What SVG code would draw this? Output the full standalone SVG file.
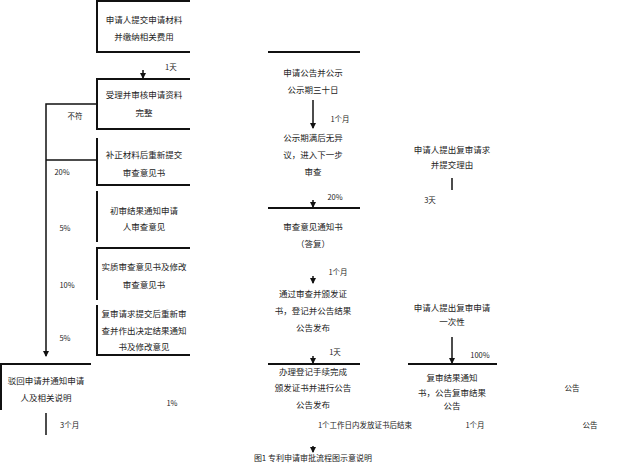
<svg xmlns="http://www.w3.org/2000/svg" width="627" height="463" viewBox="0 0 627 463">
<defs>
<style>
.ln{stroke:#111;stroke-width:2;fill:none}
.cn{stroke:#111;stroke-width:1.5;fill:none}
text{font-family:"Noto Sans CJK SC","Liberation Sans",sans-serif;font-size:8.5px;fill:#222}
.c{text-anchor:middle}
.s{font-size:7.5px}
</style>
<marker id="ah" markerWidth="6" markerHeight="6" refX="5" refY="3" orient="auto" markerUnits="userSpaceOnUse">
<path d="M0,0 L6,3 L0,6 z" fill="#111"/>
</marker>
</defs>
<rect width="627" height="463" fill="#fff"/>

<g id="connectors">
<path class="cn" d="M97,104 H46 V356" marker-end="url(#ah)"/>
<path class="cn" d="M46,160 H97"/>
<path class="cn" d="M46,413 V435"/>
<path class="cn" d="M143,70 V78" marker-end="url(#ah)"/>
<path class="cn" d="M313,100 V128" marker-end="url(#ah)"/>
<path class="cn" d="M313,200 V207" marker-end="url(#ah)"/>
<path class="cn" d="M313,276 V283" marker-end="url(#ah)"/>
<path class="cn" d="M313,356 V363" marker-end="url(#ah)"/>
<path class="cn" d="M452,178 V190"/>
<path class="cn" d="M452,337 V363" marker-end="url(#ah)"/>
<path class="cn" d="M313,446 V452" marker-end="url(#ah)"/>
<text x="165" y="70" class="s">1天</text>
<text x="75" y="119" class="s c">不符</text>
<text x="62" y="175" class="s c">20%</text>
<text x="65" y="231" class="s c">5%</text>
<text x="67" y="288" class="s c">10%</text>
<text x="65" y="341" class="s c">5%</text>
<text x="60" y="428" class="s">3个月</text>
<text x="172" y="406" class="s c">1%</text>
<text x="340" y="122" class="s c">1个月</text>
<text x="335" y="200" class="s c">20%</text>
<text x="338" y="275" class="s c">1个月</text>
<text x="335" y="355" class="s c">1天</text>
<text x="365" y="428" class="s c">1个工作日内发放证书后结束</text>
<text x="430" y="203" class="s c">3天</text>
<text x="480" y="358" class="s c">100%</text>
<text x="572" y="391" class="s c">公告</text>
<text x="475" y="428" class="s c">1个月</text>
<text x="590" y="428" class="s c">公告</text>
</g>

<g id="n1">
<path class="ln" d="M190,1 H97 V52 H190"/>
<text x="144" y="23" class="c">申请人提交申请材料</text>
<text x="144" y="40" class="c">并缴纳相关费用</text>
</g>
<g id="n2">
<path class="ln" d="M190,79 H97 V129 H190"/>
<text x="144" y="98" class="c">受理并审核申请资料</text>
<text x="144" y="116" class="c">完整</text>
</g>
<g id="n3">
<path class="ln" d="M97,138 V185 H190"/>
<text x="144" y="158" class="c">补正材料后重新提交</text>
<text x="144" y="176" class="c">审查意见书</text>
</g>
<g id="n4">
<path class="ln" d="M97,191 V242"/>
<text x="144" y="214" class="c">初审结果通知申请</text>
<text x="144" y="230" class="c">人审查意见</text>
</g>
<g id="n5">
<path class="ln" d="M190,248 H97 V300"/>
<text x="144" y="270" class="c">实质审查意见书及修改</text>
<text x="144" y="288" class="c">审查意见书</text>
</g>
<g id="n6">
<path class="ln" d="M97,305 V355 H190"/>
<text x="144" y="317" class="c">复审请求提交后重新审</text>
<text x="144" y="334" class="c">查并作出决定结果通知</text>
<text x="144" y="350" class="c">书及修改意见</text>
</g>
<g id="n7">
<path class="ln" d="M91,364 H1 V410"/>
<text x="46" y="384" class="c">驳回申请并通知申请</text>
<text x="46" y="401" class="c">人及相关说明</text>
</g>

<g id="m1">
<path class="ln" d="M268,52 H360"/>
<text x="313" y="76" class="c">申请公告并公示</text>
<text x="313" y="93" class="c">公示期三十日</text>
</g>
<g id="m2">
<text x="313" y="141" class="c">公示期满后无异</text>
<text x="313" y="158" class="c">议，进入下一步</text>
<text x="313" y="175" class="c">审查</text>
</g>
<g id="m3">
<path class="ln" d="M268,208 H360"/>
<text x="313" y="230" class="c">审查意见通知书</text>
<text x="313" y="247" class="c">（答复）</text>
</g>
<g id="m4">
<text x="313" y="297" class="c">通过审查并颁发证</text>
<text x="313" y="314" class="c">书，登记并公告结果</text>
<text x="313" y="331" class="c">公告发布</text>
</g>
<g id="m5">
<path class="ln" d="M268,364 H360"/>
<text x="313" y="375" class="c">办理登记手续完成</text>
<text x="313" y="391" class="c">颁发证书并进行公告</text>
<text x="313" y="408" class="c">公告发布</text>
</g>

<g id="r1">
<text x="452" y="153" class="c">申请人提出复审请求</text>
<text x="452" y="168" class="c">并提交理由</text>
</g>
<g id="r2">
<text x="452" y="311" class="c">申请人提出复审申请</text>
<text x="452" y="325" class="c">一次性</text>
</g>
<g id="r3">
<path class="ln" d="M408,364 H497"/>
<text x="452" y="381" class="c">复审结果通知</text>
<text x="452" y="396" class="c">书，公告复审结果</text>
<text x="452" y="409" class="c">公告</text>
</g>

<text x="313" y="461" class="c" style="font-size:8px">图1  专利申请审批流程图示意说明</text>
</svg>
